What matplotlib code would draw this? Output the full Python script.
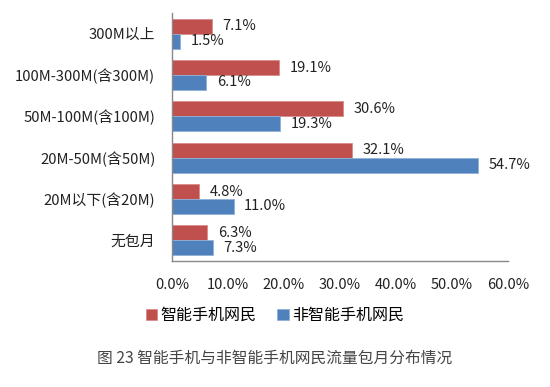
import numpy as np
import matplotlib.pyplot as plt

plt.rcParams['font.family'] = ['Noto Sans CJK SC', 'DejaVu Sans']

categories = ['300M以上', '100M-300M(含300M)', '50M-100M(含100M)',
              '20M-50M(含50M)', '20M以下(含20M)', '无包月']
smart = [7.1, 19.1, 30.6, 32.1, 4.8, 6.3]
non_smart = [1.5, 6.1, 19.3, 54.7, 11.0, 7.3]
series_names = ['智能手机网民', '非智能手机网民']
caption = '图 23 智能手机与非智能手机网民流量包月分布情况'

red = '#C0504D'
blue = '#4F81BD'

fig = plt.figure(figsize=(5.5, 3.87), dpi=100)

ax = fig.add_axes([0.3127, 0.3256, 0.6109, 0.6408])

y = np.arange(len(categories))
h = 0.36
ax.barh(y - h / 2, smart, height=h, color=red, edgecolor='#d98c8a', linewidth=0.6, label=series_names[0])
ax.barh(y + h / 2, non_smart, height=h, color=blue, edgecolor='#8fb0d8', linewidth=0.6, label=series_names[1])

for i in range(len(categories)):
    ax.text(smart[i] + 1.9, y[i] - h / 2, '%.1f%%' % smart[i], va='center', ha='left', fontsize=10.5, color='#222222')
    ax.text(non_smart[i] + 1.9, y[i] + h / 2, '%.1f%%' % non_smart[i], va='center', ha='left', fontsize=10.5, color='#222222')

ax.set_xlim(0, 60)
ax.set_ylim(len(categories) - 0.5, -0.5)
ax.set_yticks(y)
ax.set_yticklabels(categories, fontsize=10.7, color='#222222')
ax.set_xticks(np.arange(0, 61, 10))
ax.set_xticklabels(['%.1f%%' % v for v in np.arange(0, 61, 10)], fontsize=10.5, color='#222222')
ax.tick_params(axis='both', length=0)
ax.tick_params(axis='x', pad=12)
ax.tick_params(axis='y', pad=12)
for s in ['top', 'right']:
    ax.spines[s].set_visible(False)
for s in ['left', 'bottom']:
    ax.spines[s].set_color('#888888')
    ax.spines[s].set_linewidth(1)

fig.legend(loc='center', bbox_to_anchor=(0.5, 0.185), ncol=2, frameon=False, fontsize=11.5,
           handlelength=0.7, handleheight=0.7, handletextpad=0.2, columnspacing=1.3)

fig.text(0.5, 0.075, caption, ha='center', va='center', fontsize=11.3, color='#444444')

fig.savefig('out.png', dpi=100)
